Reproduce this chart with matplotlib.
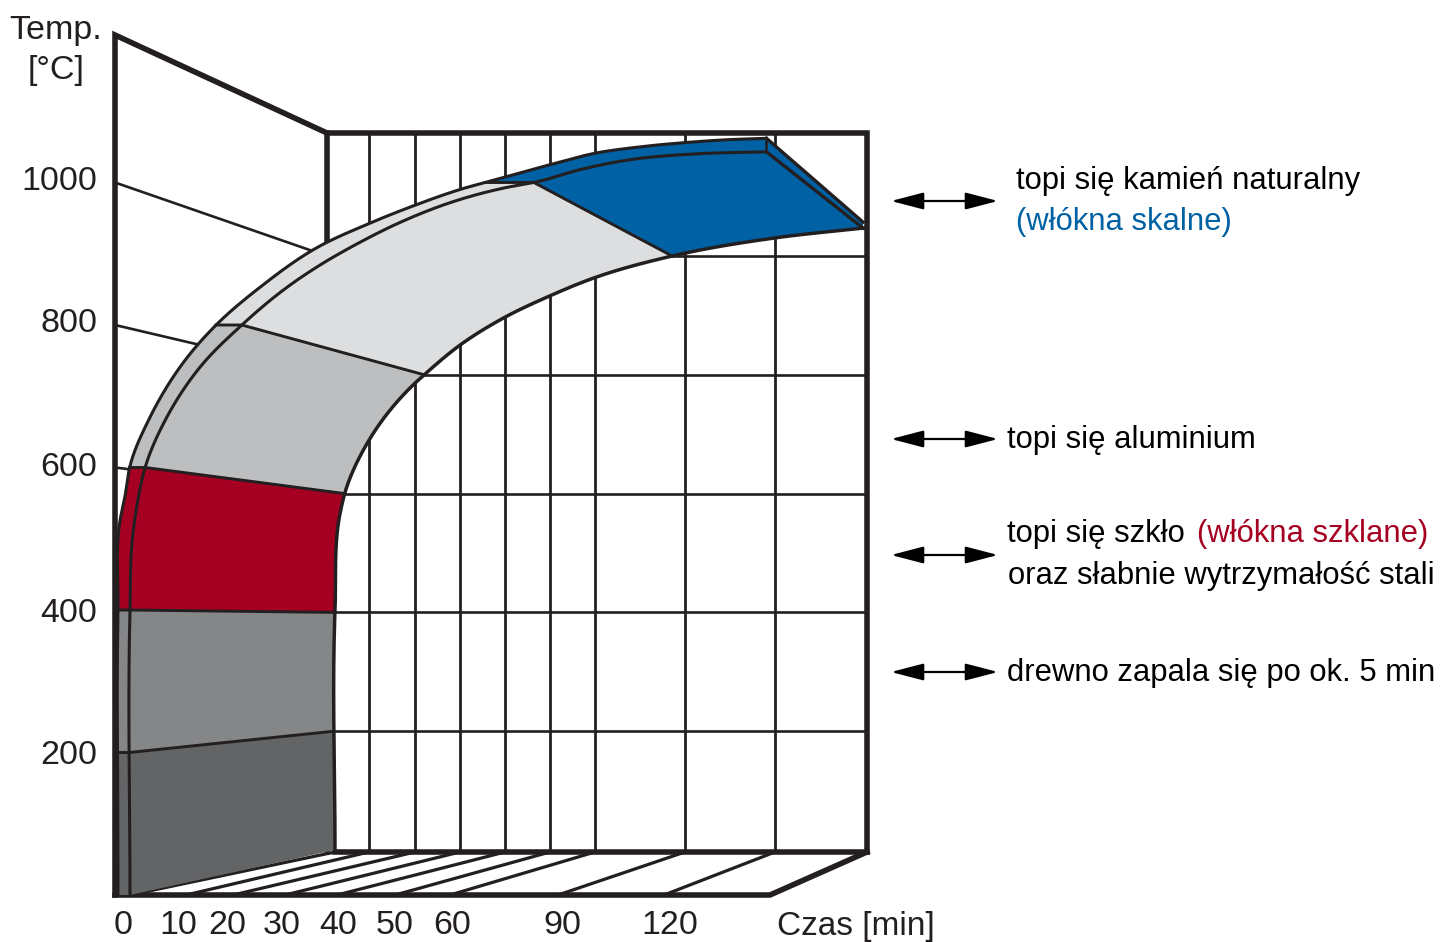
import matplotlib
matplotlib.use('Agg')
import matplotlib.pyplot as plt
import numpy as np

# minutes on the time axis and degrees on the temperature axis
time_ticks = [0, 10, 20, 30, 40, 50, 60, 90, 120]
temp_ticks = [1000, 800, 600, 400, 200]

# fire curve, front edge of the ribbon face
inner_time = [0, 0, 0.4, 1.4, 2.7, 6.6, 13, 21.7, 30.4, 36.7, 42.8, 51.5, 60.8, 74.7, 84.2, 96.2, 110.4, 128.2, 149]
inner_temp = [0, 400, 498, 554, 600, 671, 741, 800, 853, 884, 911, 946, 973, 992, 1001, 1018, 1032, 1040, 1043]

# outer rim of the ribbon
outer_time = [-4, -4, -3.3, -1.7, 0, 3.6, 10.2, 16.4, 25.2, 36, 45.7, 53.6, 63.3, 72, 87.8, 100.4, 113.2, 125.9, 137.8, 149]
outer_temp = [0, 400, 526, 559, 602, 671, 754, 800, 853, 908, 943, 968, 991, 1003, 1025, 1041, 1050, 1056, 1060, 1062]

# fire curve on the back wall
back_time = [0, 0, 1.5, 2.9, 9.7, 19.6, 22.2, 30, 40, 50, 59, 85.7, 119.3, 148.7]
back_temp = [0, 404, 567, 601, 687, 783, 801, 850, 897, 933, 961, 1000, 1030, 1047]

band_edges = [0, 200, 400, 600, 800, 1000, 1100]
band_colors = ['#636466', '#858688', '#a50021', '#bcbec0', '#dcdee0', '#0061a4']

BLUE = '#0061a4'
RED = '#a50021'
INK = '#231f20'

# axis scales of the pseudo 3D box (pixel layout)
scale_time = [-5, 0, 10, 20, 30, 40, 50, 60, 90, 120, 150]
front_px = [115, 130, 186, 233, 285, 337, 395, 450, 558, 664, 770]
back_px = [327, 335, 369, 415, 460, 505, 550, 595, 685, 775, 867]
tick_label_px = [123, 178, 227, 282, 338, 395, 452, 562, 670]


def front_x(t):
    return np.interp(t, scale_time, front_px)


def back_x(t):
    return np.interp(t, scale_time, back_px)


def front_y(temp):
    return 895 - 0.7125 * np.asarray(temp, dtype=float)


def back_y(temp):
    return 850 - 0.594 * np.asarray(temp, dtype=float)


# smooth curve through the knots (hermite on chord length)
def smooth(x, y, n=30):
    pts = np.column_stack([x, y])
    s = np.concatenate([[0], np.cumsum(np.hypot(*np.diff(pts, axis=0).T))])
    m = np.gradient(pts, s, axis=0)
    out = []
    for i in range(len(s) - 1):
        h = s[i + 1] - s[i]
        u = np.linspace(0, 1, n, endpoint=False)[:, None]
        out.append((2*u**3 - 3*u**2 + 1) * pts[i] + (u**3 - 2*u**2 + u) * h * m[i]
                   + (-2*u**3 + 3*u**2) * pts[i + 1] + (u**3 - u**2) * h * m[i + 1])
    out.append(pts[-1:])
    out = np.vstack(out)
    out[:, 1] = -np.maximum.accumulate(-out[:, 1])
    return out


# part of a curve between two heights
def section(curve, y_low, y_high):
    y_low = min(y_low, curve[0, 1])
    y_high = max(y_high, curve[-1, 1])
    s = np.arange(len(curve))
    a = np.interp(-y_low, -curve[:, 1], s)
    b = np.interp(-y_high, -curve[:, 1], s)
    idx = np.concatenate([[a], s[(s > a) & (s < b)], [b]])
    return np.column_stack([np.interp(idx, s, curve[:, 0]), np.interp(idx, s, curve[:, 1])])


inner = smooth(front_x(inner_time), front_y(inner_temp))
outer = smooth(front_x(outer_time), front_y(outer_temp))
back = smooth(back_x(back_time), back_y(back_temp))

fig = plt.figure(figsize=(14.42, 9.42), dpi=100)
ax = fig.add_axes([0, 0, 1, 1])
ax.set_xlim(0, 1442)
ax.set_ylim(942, 0)
ax.axis('off')

plt.rcParams['font.family'] = ['Liberation Sans', 'DejaVu Sans']

# back wall grid
for t in time_ticks[1:]:
    ax.plot([back_x(t)] * 2, [133, 852], color=INK, lw=2.0, zorder=1)
for temp in temp_ticks:
    ax.plot([330, 867], [back_y(temp)] * 2, color=INK, lw=1.9, zorder=1)

# floor lines
for t in time_ticks:
    ax.plot([front_x(t), back_x(t)], [895, 852], color=INK, lw=2.3, zorder=1)

# side wall lines
for temp in temp_ticks:
    ax.plot([115, 327], [front_y(temp), back_y(temp)], color=INK, lw=1.9, zorder=1)

# box frame
ax.plot([115, 115, 327, 867, 867], [895, 35, 133, 133, 852], color=INK, lw=4.0, zorder=2,
        solid_joinstyle='miter')
ax.plot([327, 327], [133, 852], color=INK, lw=4.0, zorder=2)
ax.plot([335, 867], [852, 852], color=INK, lw=4.0, zorder=2)
ax.plot([115, 770, 867], [895, 895, 852], color=INK, lw=4.0, zorder=2, solid_joinstyle='miter')

# ribbon bands: face and rim
for i, color in enumerate(band_colors):
    lo, hi = band_edges[i], band_edges[i + 1]
    face_a = section(inner, front_y(lo), front_y(hi))
    face_b = section(back, back_y(lo), back_y(hi))
    rim = section(outer, front_y(lo), front_y(hi))
    ax.fill(*np.vstack([face_a, face_b[::-1]]).T, color=color, lw=0, zorder=3)
    ax.fill(*np.vstack([rim, face_a[::-1]]).T, color=color, lw=0, zorder=3)

# end of the ribbon at 150 min
end_rim = np.array([[front_x(149), front_y(1062)], [back_x(148.7), back_y(1057)],
                    [back_x(148.7), back_y(1047)], [front_x(149), front_y(1043)]])
ax.fill(*end_rim.T, color=BLUE, lw=0, zorder=3)
ax.plot(end_rim[:2, 0], end_rim[:2, 1], color=INK, lw=2.4, zorder=4)
ax.plot(end_rim[2:, 0], end_rim[2:, 1], color=INK, lw=2.4, zorder=4)
ax.plot(end_rim[[0, 3], 0], end_rim[[0, 3], 1], color=INK, lw=1.8, zorder=4)

# band dividers
for temp in band_edges[1:-1]:
    ya, yb = front_y(temp), back_y(temp)
    xa = section(inner, ya, ya)[0, 0]
    xb = section(back, yb, yb)[0, 0]
    xo = section(outer, ya, ya)[0, 0]
    ax.plot([xo, xa, xb], [ya, ya, yb], color=INK, lw=2.1, zorder=4)

for curve, width in ((outer, 2.2), (inner, 2.2), (back, 2.5)):
    ax.plot(curve[:, 0], curve[:, 1], color=INK, lw=width, zorder=4)

# axis labels
ax.text(56, 30, 'Temp.', fontsize=24.5, ha='center', va='center', color=INK)
ax.text(56, 70, '[°C]', fontsize=24.5, ha='center', va='center', color=INK)
for temp, y in zip(temp_ticks, [181, 323, 468, 613, 755]):
    ax.text(97, y, str(temp), fontsize=24.5, ha='right', va='center', color=INK)
for t, x in zip(time_ticks, tick_label_px):
    ax.text(x, 926, str(t), fontsize=24.5, ha='center', va='center', color=INK)
ax.text(777, 926, 'Czas [min]', fontsize=24, ha='left', va='center', color=INK)

# notes on the right
notes = [(1016, 181, 'topi się kamień naturalny', '#000000'),
         (1016, 222, '(włókna skalne)', BLUE),
         (1007, 440, 'topi się aluminium', '#000000'),
         (1007, 534, 'topi się szkło', '#000000'),
         (1197, 534, '(włókna szklane)', RED),
         (1008, 576, 'oraz słabnie wytrzymałość stali', '#000000'),
         (1007, 673, 'drewno zapala się po ok. 5 min', '#000000')]
for x, y, label, color in notes:
    ax.text(x, y, label, fontsize=22.3, ha='left', va='center', color=color)

for y in [201, 439, 555, 672]:
    ax.annotate('', xy=(891, y), xytext=(998, y), zorder=5,
                arrowprops=dict(arrowstyle='<|-|>,head_length=1,head_width=0.26', mutation_scale=20,
                                lw=1.6, color='#000000', shrinkA=0, shrinkB=0))

fig.savefig('out.png', dpi=100)
